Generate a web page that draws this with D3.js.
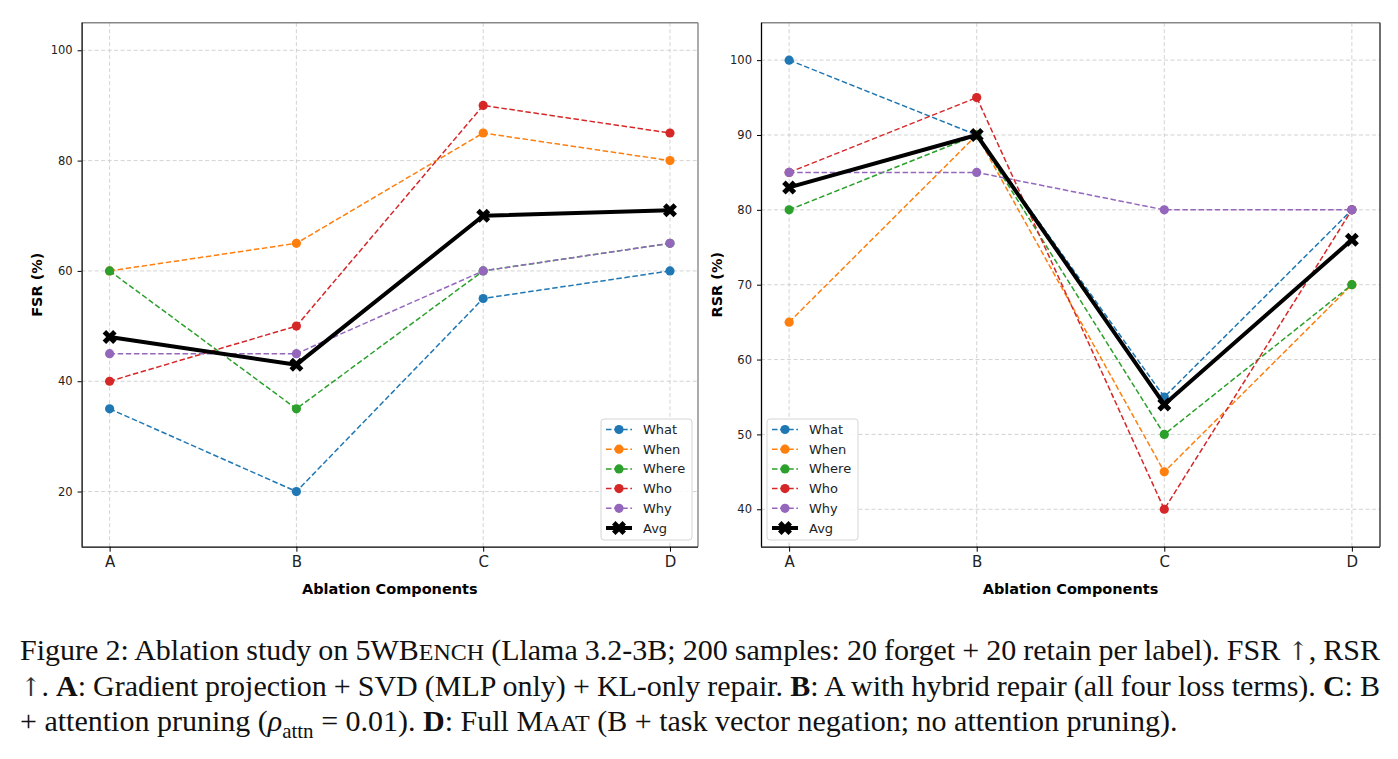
<!DOCTYPE html>
<html>
<head>
<meta charset="utf-8">
<script src="https://cdn.jsdelivr.net/npm/d3@7"></script>
<style>
  html, body { margin: 0; padding: 0; background: #fff; }
  svg { display: block; }
</style>
</head>
<body>
<svg id="chart" width="1398" height="759"></svg>
<script>
// ---------------- DATA ----------------
const categories = ["A", "B", "C", "D"];
const seriesNames = ["What", "When", "Where", "Who", "Why"];
const seriesColors = ["#1f77b4", "#ff7f0e", "#2ca02c", "#d62728", "#9467bd"];

const fsrWhat  = [35, 20, 55, 60];
const fsrWhen  = [60, 65, 85, 80];
const fsrWhere = [60, 35, 60, 65];
const fsrWho   = [40, 50, 90, 85];
const fsrWhy   = [45, 45, 60, 65];
const fsrAvg   = [48, 43, 70, 71];

const rsrWhat  = [100, 90, 55, 80];
const rsrWhen  = [65, 90, 45, 70];
const rsrWhere = [80, 90, 50, 70];
const rsrWho   = [85, 95, 40, 80];
const rsrWhy   = [85, 85, 80, 80];
const rsrAvg   = [83, 90, 54, 76];

const fsrTicks = [20, 40, 60, 80, 100];
const rsrTicks = [40, 50, 60, 70, 80, 90, 100];
const fsrDomain = [10, 105];
const rsrDomain = [35, 105];

const xLabel = "Ablation Components";
const fsrLabel = "FSR (%)";
const rsrLabel = "RSR (%)";
const avgName = "Avg";

// caption segments: b=bold, sc=small caps, it=italic, sub=subscript, sym=symbol font
const captionLines = [
  [{t: "Figure 2: Ablation study on 5WB"}, {t: "ENCH", sc: true}, {t: " (Llama 3.2-3B; 200 samples: 20 forget + 20 retain per label). FSR "}, {t: "\u2191", sym: true}, {t: ", RSR"}],
  [{t: "\u2191", sym: true}, {t: ". "}, {t: "A", b: true}, {t: ": Gradient projection + SVD (MLP only) + KL-only repair. "}, {t: "B", b: true}, {t: ": A with hybrid repair (all four loss terms). "}, {t: "C", b: true}, {t: ": B"}],
  [{t: "+ attention pruning ("}, {t: "\u03c1", it: true}, {t: "attn", sub: true}, {t: " = 0.01). "}, {t: "D", b: true}, {t: ": Full M"}, {t: "AAT", sc: true}, {t: " (B + task vector negation; no attention pruning)."}]
];

// ---------------- DRAW ----------------
const svg = d3.select("#chart");
const FONT = "DejaVu Sans, sans-serif";

function xMarkerPath(s) {
  const p = [[-0.25,-0.5],[0,-0.25],[0.25,-0.5],[0.5,-0.25],[0.25,0],[0.5,0.25],[0.25,0.5],[0,0.25],[-0.25,0.5],[-0.5,0.25],[-0.25,0],[-0.5,-0.25]];
  return "M" + p.map(d => (d[0]*s).toFixed(2) + "," + (d[1]*s).toFixed(2)).join("L") + "Z";
}

function drawPanel(cfg) {
  const g = svg.append("g");
  const x = d3.scaleLinear().domain([-0.15, 3.15]).range([cfg.left, cfg.right]);
  const y = d3.scaleLinear().domain(cfg.domain).range([cfg.bottom, cfg.top]);

  // grid
  const grid = g.append("g").attr("stroke", "#c8c8c8").attr("stroke-width", 0.8).attr("stroke-dasharray", "4,2.5");
  grid.selectAll("line.v").data(categories.map((c, i) => i)).join("line")
    .attr("x1", d => x(d)).attr("x2", d => x(d)).attr("y1", cfg.top).attr("y2", cfg.bottom);
  grid.selectAll("line.h").data(cfg.ticks).join("line")
    .attr("x1", cfg.left).attr("x2", cfg.right).attr("y1", d => y(d)).attr("y2", d => y(d));

  // series
  const line = d3.line().x((d, i) => x(i)).y(d => y(d));
  cfg.series.forEach((vals, k) => {
    const sg = g.append("g");
    sg.append("path").datum(vals).attr("d", line).attr("fill", "none")
      .attr("stroke", seriesColors[k]).attr("stroke-width", 1.5).attr("stroke-dasharray", "5.5,2.6");
    sg.selectAll("circle").data(vals).join("circle")
      .attr("cx", (d, i) => x(i)).attr("cy", d => y(d)).attr("r", 4.6).attr("fill", seriesColors[k]);
  });
  // avg
  const ag = g.append("g");
  ag.append("path").datum(cfg.avg).attr("d", line).attr("fill", "none")
    .attr("stroke", "#000").attr("stroke-width", 4).attr("stroke-linejoin", "round");
  ag.selectAll("path.mk").data(cfg.avg).join("path").attr("class", "mk")
    .attr("d", xMarkerPath(14)).attr("transform", (d, i) => `translate(${x(i)},${y(d)})`)
    .attr("fill", "#000");

  // spines
  g.append("line").attr("x1", cfg.left).attr("x2", cfg.right).attr("y1", cfg.top).attr("y2", cfg.top)
    .attr("stroke", "#888").attr("stroke-width", 1.6);
  g.append("line").attr("x1", cfg.right).attr("x2", cfg.right).attr("y1", cfg.top).attr("y2", cfg.bottom)
    .attr("stroke", cfg.rightSpine).attr("stroke-width", 1.4);

  // axes
  const xa = g.append("g").attr("transform", `translate(0,${cfg.bottom})`)
    .call(d3.axisBottom(x).tickValues([0, 1, 2, 3]).tickFormat(i => categories[i]).tickSize(5).tickPadding(5));
  xa.selectAll("text").attr("font-family", FONT).attr("font-size", 15).attr("fill", "#222");
  const ya = g.append("g").attr("transform", `translate(${cfg.left},0)`)
    .call(d3.axisLeft(y).tickValues(cfg.ticks).tickSize(4).tickPadding(5));
  ya.selectAll("text").attr("font-family", FONT).attr("font-size", 11.5).attr("fill", "#222");
  [xa, ya].forEach(a => {
    a.select(".domain").attr("stroke", "#000").attr("stroke-width", 1.3);
    a.selectAll(".tick line").attr("stroke", "#000").attr("stroke-width", 1);
  });
  xa.select(".domain").attr("d", `M${cfg.left},0.5H${cfg.right}`);
  ya.select(".domain").attr("d", `M0.5,${cfg.top}V${cfg.bottom}`);

  // labels
  g.append("text").attr("x", (cfg.left + cfg.right) / 2).attr("y", 594)
    .attr("text-anchor", "middle").attr("font-family", FONT).attr("font-weight", "bold")
    .attr("font-size", 14.5).text(xLabel);
  g.append("text").attr("transform", `translate(${cfg.ylabX},${(cfg.top + cfg.bottom) / 2}) rotate(-90)`)
    .attr("text-anchor", "middle").attr("font-family", FONT).attr("font-weight", "bold")
    .attr("font-size", 14.5).text(cfg.ylabel);

  // legend
  const lg = g.append("g").attr("transform", `translate(${cfg.legX},419)`);
  lg.append("rect").attr("x", 0).attr("y", 0).attr("width", 91).attr("height", 121).attr("rx", 3)
    .attr("fill", "#fff").attr("fill-opacity", 0.85).attr("stroke", "#d5d5d5").attr("stroke-width", 1);
  const names = seriesNames.concat([avgName]);
  names.forEach((n, k) => {
    const yy = 10.5 + k * 19.7;
    const row = lg.append("g").attr("transform", `translate(0,${yy})`);
    if (k < seriesNames.length) {
      row.append("line").attr("x1", 5).attr("x2", 31).attr("y1", 0).attr("y2", 0)
        .attr("stroke", seriesColors[k]).attr("stroke-width", 1.5).attr("stroke-dasharray", "5.5,2.6");
      row.append("circle").attr("cx", 18).attr("cy", 0).attr("r", 4.6).attr("fill", seriesColors[k]);
    } else {
      row.append("line").attr("x1", 5).attr("x2", 31).attr("y1", 0).attr("y2", 0)
        .attr("stroke", "#000").attr("stroke-width", 4);
      row.append("path").attr("d", xMarkerPath(14)).attr("transform", "translate(18,0)").attr("fill", "#000");
    }
    row.append("text").attr("x", 42).attr("y", 0).attr("dy", "0.35em")
      .attr("font-family", FONT).attr("font-size", 13).attr("fill", "#222").text(n);
  });
}

drawPanel({
  left: 81.6, right: 698, top: 22.7, bottom: 546.7, domain: fsrDomain, ticks: fsrTicks,
  series: [fsrWhat, fsrWhen, fsrWhere, fsrWho, fsrWhy], avg: fsrAvg,
  ylabel: fsrLabel, ylabX: 42, legX: 601, rightSpine: "#888"
});
drawPanel({
  left: 761, right: 1380, top: 22.7, bottom: 546.7, domain: rsrDomain, ticks: rsrTicks,
  series: [rsrWhat, rsrWhen, rsrWhere, rsrWho, rsrWhy], avg: rsrAvg,
  ylabel: rsrLabel, ylabX: 722, legX: 767, rightSpine: "#333"
});

// ---------------- CAPTION ----------------
const CAPFONT = "Liberation Serif, Times New Roman, serif";
const capLeft = 20, capRight = 1380;
const baselines = [660, 696, 731];

function renderLine(parent, segs, fs, yb) {
  const t = parent.append("text").attr("x", capLeft).attr("y", yb)
    .attr("font-family", CAPFONT).attr("font-size", fs).attr("fill", "#111")
    .style("white-space", "pre");
  let shifted = false;
  segs.forEach(s => {
    const sp = t.append("tspan").text(s.t);
    if (s.b) sp.attr("font-weight", "bold");
    if (s.it) sp.attr("font-style", "italic");
    if (s.sc) sp.attr("font-size", fs * 0.8);
    if (s.sym) sp.attr("font-family", "DejaVu Serif, serif").attr("font-size", fs * 0.85).attr("fill", "#333");
    if (s.sub) { sp.attr("font-size", fs * 0.7).attr("dy", fs * 0.22); shifted = true; }
    else if (shifted) { sp.attr("dy", -fs * 0.22); shifted = false; }
  });
  return t;
}

const capG = svg.append("g");
// determine font size so that the last (non-justified) line ends where the reference does
let fs = 25;
for (let it = 0; it < 3; it++) {
  const probe = renderLine(capG, captionLines[2], fs, 300);
  const w3 = probe.node().getBBox().width;
  probe.remove();
  fs = Math.max(20, Math.min(30, fs * (1180 / w3)));
}

captionLines.forEach((segs, li) => {
  const t = renderLine(capG, segs, fs, baselines[li]);
  if (li < 2) {
    const len = t.node().getBBox().width;
    const spaces = segs.map(s => s.t).join("").split(" ").length - 1;
    const ws = (capRight - capLeft - len) / spaces;
    t.attr("word-spacing", ws);
  }
});
</script>
</body>
</html>
